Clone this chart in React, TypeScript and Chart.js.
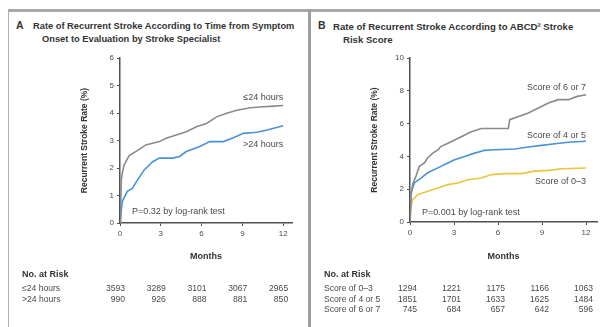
import React, { useEffect, useRef } from 'react';
import { Chart, registerables } from 'chart.js';

Chart.register(...registerables);

// ---------- data ----------
const MONTH_TICKS = [0, 3, 6, 9, 12];

// Panel A
const A_LE24_MONTHS = [0, 0.05, 0.1, 0.2, 0.3, 0.67, 1.0, 1.41, 1.9, 2.4, 2.9, 3.39, 4.13, 4.88, 5.62, 6.36, 7.1, 7.85, 8.59, 9.58, 10.57, 11.3, 12];
const A_LE24_RATE = [0, 0.6, 1.6, 1.9, 2.1, 2.45, 2.55, 2.68, 2.84, 2.9, 2.96, 3.08, 3.2, 3.32, 3.5, 3.62, 3.86, 3.99, 4.1, 4.19, 4.23, 4.25, 4.27];
const A_GT24_MONTHS = [0, 0.17, 0.54, 0.92, 1.29, 1.78, 2.4, 2.9, 3.89, 4.38, 4.88, 5.87, 6.6, 7.6, 8.34, 9.08, 10.07, 10.82, 12];
const A_GT24_RATE = [0, 0.79, 1.15, 1.27, 1.57, 1.93, 2.23, 2.36, 2.36, 2.42, 2.6, 2.78, 2.96, 2.96, 3.1, 3.26, 3.3, 3.38, 3.54];

const A_SERIES_NAMES = ['≤24 hours', '>24 hours'];
const A_PVALUE_TEXT = 'P=0.32 by log-rank test';
const A_RISK_LE24 = [3593, 3289, 3101, 3067, 2965];
const A_RISK_GT24 = [990, 926, 888, 881, 850];

// Panel B
const B_67_MONTHS = [0, 0.07, 0.18, 0.41, 0.64, 0.98, 1.2, 1.55, 1.9, 2.1, 2.58, 3.04, 3.5, 4.18, 4.87, 6.7, 6.8, 7.4, 8.07, 8.75, 9.44, 10.1, 10.8, 11.4, 12];
const B_67_RATE = [0, 1.56, 2.3, 2.8, 3.4, 3.6, 3.9, 4.2, 4.4, 4.6, 4.8, 5.0, 5.2, 5.5, 5.7, 5.7, 6.24, 6.44, 6.65, 6.95, 7.25, 7.46, 7.46, 7.66, 7.76];
const B_45_MONTHS = [0, 0.07, 0.3, 0.75, 1.2, 1.9, 2.58, 3.04, 3.73, 4.41, 5.1, 5.78, 7.15, 8.07, 8.98, 9.9, 10.8, 12];
const B_45_RATE = [0, 1.77, 2.38, 2.68, 3.0, 3.3, 3.6, 3.8, 4.0, 4.2, 4.37, 4.41, 4.45, 4.57, 4.67, 4.77, 4.86, 4.92];
const B_03_MONTHS = [0, 0.07, 0.18, 0.53, 1.2, 1.9, 2.58, 3.27, 3.95, 4.87, 5.55, 6.47, 7.6, 8.5, 9.44, 10.35, 12];
const B_03_RATE = [0, 0.96, 1.36, 1.67, 1.87, 2.07, 2.28, 2.38, 2.58, 2.68, 2.89, 2.95, 2.95, 3.1, 3.15, 3.25, 3.29];

const B_SERIES_NAMES = ['Score of 0–3', 'Score of 4 or 5', 'Score of 6 or 7'];
const B_PVALUE_TEXT = 'P=0.001 by log-rank test';
const B_RISK_03 = [1294, 1221, 1175, 1166, 1063];
const B_RISK_45 = [1851, 1701, 1633, 1625, 1484];
const B_RISK_67 = [745, 684, 657, 642, 596];

// ---------- styles ----------
const GRAY = '#8a8a8a';
const BLUE = '#4a92d8';
const YELLOW = '#ebc43e';
const AXIS = '#505050';
const TXT = '#4a4a4a';
const FONT = '"Liberation Sans", Arial, sans-serif';

const pts = (xs: number[], ys: number[]) => xs.map((x, i) => ({ x, y: ys[i] }));

type TextItem = { text: string; x: number; y: number; align: CanvasTextAlign };
type RiskRow = { label: string; values: number[] };

interface PanelCfg {
  width: number;
  yWidth: number;
  xHeight: number;
  padRight: number;
  yMax: number;
  yStep: number;
  xMax: number;
  yTitlePad: number;
  datasets: { data: { x: number; y: number }[]; color: string }[];
  texts: TextItem[];
  riskLabelX: number;
  riskRows: RiskRow[];
  riskOffset: number;
}

function makeConfig(p: PanelCfg): any {
  const overlay = {
    id: 'overlay',
    afterDraw(chart: any) {
      const ctx = chart.ctx as CanvasRenderingContext2D;
      const xs = chart.scales.x;
      const ys = chart.scales.y;
      ctx.save();
      ctx.fillStyle = TXT;
      ctx.textBaseline = 'middle';
      ctx.font = `9px ${FONT}`;
      for (const t of p.texts) {
        ctx.textAlign = t.align;
        ctx.fillText(t.text, xs.getPixelForValue(t.x), ys.getPixelForValue(t.y));
      }
      // risk table
      ctx.textAlign = 'left';
      ctx.font = `bold 9px ${FONT}`;
      ctx.fillStyle = '#333';
      ctx.fillText('No. at Risk', p.riskLabelX, 275);
      ctx.font = `8.6px ${FONT}`;
      ctx.fillStyle = TXT;
      p.riskRows.forEach((row, r) => {
        const y = 289 + r * 10.5;
        ctx.textAlign = 'left';
        ctx.fillText(row.label, p.riskLabelX, y);
        ctx.textAlign = 'right';
        row.values.forEach((v, i) => {
          ctx.fillText(String(v), xs.getPixelForValue(MONTH_TICKS[i]) + p.riskOffset, y);
        });
      });
      ctx.restore();
    },
  };

  return {
    type: 'line',
    data: {
      datasets: p.datasets.map((d) => ({
        data: d.data,
        borderColor: d.color,
        borderWidth: 1.6,
        pointRadius: 0,
        tension: 0,
        fill: false,
      })),
    },
    options: {
      animation: false,
      responsive: false,
      devicePixelRatio: 1,
      layout: { padding: { left: 0, top: 58, right: p.padRight, bottom: 62 } },
      plugins: { legend: { display: false }, tooltip: { enabled: false } },
      scales: {
        x: {
          type: 'linear',
          min: 0,
          max: p.xMax,
          afterBuildTicks: (s: any) => {
            s.ticks = MONTH_TICKS.map((v) => ({ value: v }));
          },
          afterFit: (s: any) => {
            s.height = p.xHeight;
          },
          ticks: { color: TXT, font: { size: 8, family: FONT }, padding: 3, autoSkip: false, maxRotation: 0 },
          grid: { drawOnChartArea: false, drawTicks: true, tickLength: 3, color: AXIS, lineWidth: 1 },
          border: { display: true, color: AXIS, width: 1.5 },
          title: { display: true, text: 'Months', color: '#333', font: { size: 9, weight: 'bold', family: FONT }, padding: { top: 0, bottom: 3 } },
        },
        y: {
          type: 'linear',
          min: 0,
          max: p.yMax,
          afterFit: (s: any) => {
            s.width = p.yWidth;
          },
          ticks: { stepSize: p.yStep, color: TXT, font: { size: 8, family: FONT }, padding: 3 },
          grid: { drawOnChartArea: false, drawTicks: true, tickLength: 3, color: AXIS, lineWidth: 1 },
          border: { display: true, color: AXIS, width: 1.5 },
          title: { display: true, text: 'Recurrent Stroke Rate (%)', color: '#333', font: { size: 8.5, weight: 'bold', family: FONT }, padding: { top: p.yTitlePad, bottom: 0 } },
        },
      },
    },
    plugins: [overlay],
  };
}

const PANEL_A: PanelCfg = {
  width: 308,
  yWidth: 120,
  xHeight: 42,
  padRight: 16,
  yMax: 6,
  yStep: 1,
  xMax: 12.65,
  yTitlePad: 80,
  datasets: [
    { data: pts(A_LE24_MONTHS, A_LE24_RATE), color: GRAY },
    { data: pts(A_GT24_MONTHS, A_GT24_RATE), color: BLUE },
  ],
  texts: [
    { text: A_SERIES_NAMES[0], x: 12, y: 4.55, align: 'right' },
    { text: A_SERIES_NAMES[1], x: 12, y: 2.84, align: 'right' },
    { text: A_PVALUE_TEXT, x: 0.88, y: 0.4, align: 'left' },
  ],
  riskLabelX: 22,
  riskRows: [
    { label: A_SERIES_NAMES[0], values: A_RISK_LE24 },
    { label: A_SERIES_NAMES[1], values: A_RISK_GT24 },
  ],
  riskOffset: 5,
};

const PANEL_B: PanelCfg = {
  width: 289,
  yWidth: 99,
  xHeight: 43,
  padRight: 3,
  yMax: 10,
  yStep: 2,
  xMax: 12.75,
  yTitlePad: 59,
  datasets: [
    { data: pts(B_67_MONTHS, B_67_RATE), color: GRAY },
    { data: pts(B_45_MONTHS, B_45_RATE), color: BLUE },
    { data: pts(B_03_MONTHS, B_03_RATE), color: YELLOW },
  ],
  texts: [
    { text: B_SERIES_NAMES[2], x: 12, y: 8.17, align: 'right' },
    { text: B_SERIES_NAMES[1], x: 12, y: 5.3, align: 'right' },
    { text: B_SERIES_NAMES[0], x: 12, y: 2.44, align: 'right' },
    { text: B_PVALUE_TEXT, x: 0.82, y: 0.55, align: 'left' },
  ],
  riskLabelX: 13,
  riskRows: [
    { label: B_SERIES_NAMES[0], values: B_RISK_03 },
    { label: B_SERIES_NAMES[1], values: B_RISK_45 },
    { label: B_SERIES_NAMES[2], values: B_RISK_67 },
  ],
  riskOffset: 7,
};

function Panel({ cfg, left }: { cfg: PanelCfg; left: number }) {
  const ref = useRef<HTMLCanvasElement>(null);
  useEffect(() => {
    if (!ref.current) return;
    const chart = new Chart(ref.current, makeConfig(cfg));
    return () => chart.destroy();
  }, [cfg]);
  return (
    <canvas
      ref={ref}
      width={cfg.width}
      height={327}
      style={{ position: 'absolute', left, top: 0, width: cfg.width, height: 327 }}
    />
  );
}

const titleStyle: React.CSSProperties = {
  position: 'absolute',
  whiteSpace: 'nowrap',
  fontFamily: FONT,
  fontWeight: 'bold',
  fontSize: 9.3,
  lineHeight: '11px',
  color: '#333',
};

export default function App() {
  return (
    <div style={{ position: 'absolute', left: 0, top: 0, width: 600, height: 327, background: '#fff', overflow: 'hidden' }}>
      <div style={{ position: 'absolute', left: 8, top: 9, width: 592, height: 3, background: '#a8a8a8' }} />
      <div style={{ position: 'absolute', left: 8, top: 9, width: 1, height: 318, background: '#b0b0b0' }} />
      <div style={{ position: 'absolute', left: 308, top: 9, width: 3, height: 318, background: '#a0a0a0' }} />

      <div style={{ ...titleStyle, left: 16, top: 20, fontSize: 10.5 }}>A</div>
      <div style={{ ...titleStyle, left: 33, top: 20.5 }}>Rate of Recurrent Stroke According to Time from Symptom</div>
      <div style={{ ...titleStyle, left: 42, top: 34 }}>Onset to Evaluation by Stroke Specialist</div>

      <div style={{ ...titleStyle, left: 318, top: 20, fontSize: 10.5 }}>B</div>
      <div style={{ ...titleStyle, left: 333, top: 20.5, fontSize: 9.6 }}>Rate of Recurrent Stroke According to ABCD² Stroke</div>
      <div style={{ ...titleStyle, left: 343, top: 34, fontSize: 9.6 }}>Risk Score</div>

      <Panel cfg={PANEL_A} left={0} />
      <Panel cfg={PANEL_B} left={311} />
    </div>
  );
}
